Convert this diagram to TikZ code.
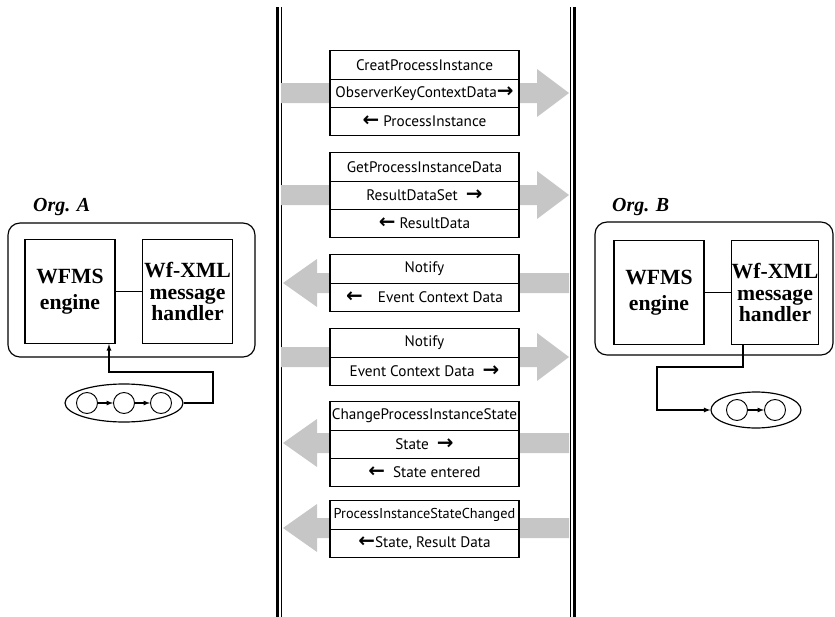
\documentclass[tikz,border=0pt]{standalone}
\usepackage{fontspec}
\setmainfont{Liberation Serif}
\newfontfamily\msgfont{PT Sans}
\newfontfamily\arrowfont{DejaVu Sans}
\usetikzlibrary{positioning,shapes.geometric}
\newlength\pxu
\setlength\pxu{0.03cm}
\newcommand\rarr{{\arrowfont\bfseries\fontsize{17}{14}\selectfont →}}
\newcommand\larr{{\arrowfont\bfseries\fontsize{17}{14}\selectfont ←}}
% grey block arrows behind the message boxes
\newcommand\flowright[1]{\fill[flow] (281,#1-10) -- (537,#1-10) -- (537,#1-24) -- (569,#1) -- (537,#1+24) -- (537,#1+10) -- (281,#1+10) -- cycle;}
\newcommand\flowleft[1]{\fill[flow] (283,#1) -- (317,#1-24) -- (317,#1-10) -- (569,#1-10) -- (569,#1+10) -- (317,#1+10) -- (317,#1+24) -- cycle;}
\tikzset{
  msg/.style={draw, line width=1.1pt, outer sep=0pt, minimum width=189\pxu, minimum height=28.3\pxu,
    inner sep=0pt, fill=white, font=\msgfont\fontsize{13}{15}\selectfont},
  unit/.style={draw, line width=1pt, minimum width=90\pxu, minimum height=104\pxu, inner sep=0pt,
    align=center, fill=white, font=\bfseries\fontsize{18.5}{22}\selectfont},
  orglabel/.style={anchor=west, inner sep=0pt, font=\bfseries\itshape\fontsize{17}{20}\selectfont},
  orgframe/.style={draw, line width=1pt, rounded corners=12\pxu},
  flow/.style={fill=gray!45},
  proc/.style={draw, ellipse, line width=1pt, inner sep=0pt},
  state/.style={draw, circle, line width=0.8pt, minimum size=21\pxu, inner sep=0pt},
  link/.style={line width=0.9pt, -latex},
}
\begin{document}
\begin{tikzpicture}[x=0.03cm, y=-0.03cm]
\useasboundingbox (0,0) rectangle (835,617);

% channel between the two organisations
\draw[line width=3\pxu] (277,7) -- (277,617);
\draw[line width=1\pxu] (281,7) -- (281,617);
\draw[line width=1\pxu] (570,7) -- (570,617);
\draw[line width=3\pxu] (574,7) -- (574,617);

\flowright{93}
\flowright{195}
\flowleft{283}
\flowright{357}
\flowleft{443}
\flowleft{528}

% message boxes
\node[msg] (creat) at (424.5,65) {CreatProcessInstance};
\node[msg, below=0pt of creat] (creatin) {ObserverKeyContextData\rarr};
\node[msg, below=0pt of creatin] (creatout) {\larr\ ProcessInstance};

\node[msg] (getdata) at (424.5,167) {GetProcessInstanceData};
\node[msg, below=0pt of getdata] (getin) {ResultDataSet\ \ \rarr};
\node[msg, below=0pt of getin] (getout) {\larr\ ResultData};

\node[msg] (notifyb) at (424.5,269) {Notify};
\node[msg, below=0pt of notifyb] (notifybout) {\larr\quad Event Context Data};

\node[msg] (notifya) at (424.5,343) {Notify};
\node[msg, below=0pt of notifya] (notifyaout) {Event Context Data\ \ \rarr};

\node[msg] (change) at (424.5,416) {ChangeProcessInstanceState};
\node[msg, below=0pt of change] (changein) {State\ \ \rarr};
\node[msg, below=0pt of changein] (changeout) {\larr\ \ State entered};

\node[msg, font=\msgfont\fontsize{12.2}{15}\selectfont] (changed) at (424.5,515) {ProcessInstanceStateChanged};
\node[msg, below=0pt of changed] (changedout) {\larr State, Result Data};

% Org. A
\node[orglabel] (orgA) at (33,207) {Org. A};
\draw[orgframe] (8,223) rectangle (255,357);
\node[unit] (engA) at (70,291.5) {WFMS\\engine};
\node[unit, font=\bfseries\fontsize{18.5}{18}\selectfont] (hdlA) at (187.5,291.5) {Wf-XML\\message\\handler};
\draw[line width=0.8pt] (engA) -- (hdlA);

\node[proc, minimum width=118\pxu, minimum height=38\pxu] (procA) at (124,403) {};
\node[state] (a1) at (87,403) {};
\node[state] (a2) at (124,403) {};
\node[state] (a3) at (161,403) {};
\draw[link] (a1) -- (a2);
\draw[link] (a2) -- (a3);
\coordinate (kneeA1) at (213,372);
\coordinate (kneeA2) at (109,372);
\draw[link] (procA.east) -| (kneeA1) -- (kneeA2) -- (kneeA2 |- engA.south);

% Org. B
\node[orglabel] (orgB) at (612,207) {Org. B};
\draw[orgframe] (595,222) rectangle (833,355);
\node[unit] (engB) at (659,292.5) {WFMS\\engine};
\node[unit, minimum width=86\pxu, font=\bfseries\fontsize{18.5}{18}\selectfont] (hdlB) at (775,292.5) {Wf-XML\\message\\handler};
\draw[line width=0.8pt] (engB) -- (hdlB);

\node[proc, minimum width=90\pxu, minimum height=36\pxu] (procB) at (756,410) {};
\node[state] (b1) at (737,410) {};
\node[state] (b2) at (775,410) {};
\draw[link] (b1) -- (b2);
\coordinate (kneeB1) at (743,367);
\coordinate (kneeB2) at (657,367);
\draw[link] (kneeB1 |- hdlB.south) -- (kneeB1) -- (kneeB2) |- (procB.west);
\end{tikzpicture}
\end{document}
